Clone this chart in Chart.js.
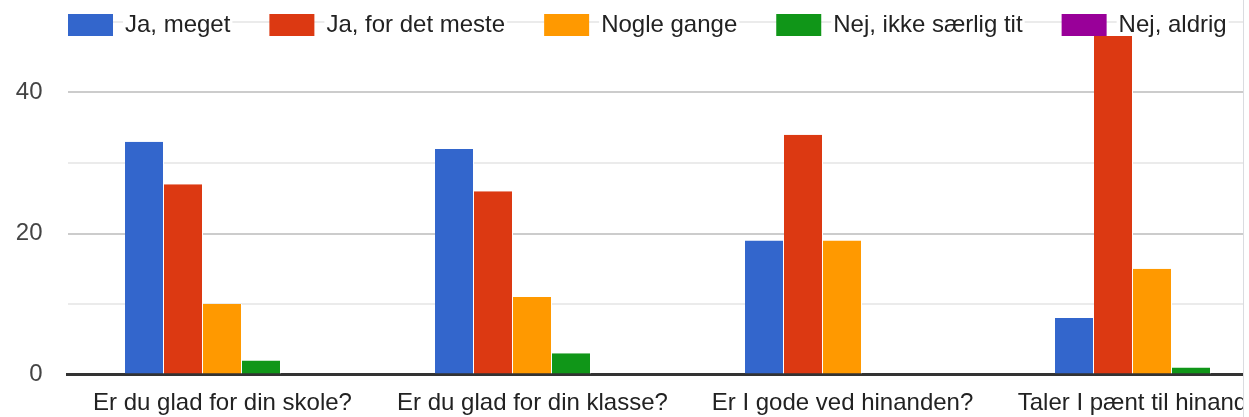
<!DOCTYPE html>
<html>
<head>
<meta charset="utf-8">
<script src="https://cdn.jsdelivr.net/npm/chart.js@4/dist/chart.umd.min.js"></script>
<style>
  html, body { margin: 0; padding: 0; background: #fff; overflow: hidden; }
  #wrap { width: 1243px; height: 417px; overflow: hidden; border-right: 1px solid #dadce0; }
</style>
</head>
<body>
<div id="wrap"><canvas id="surveyChart" width="1320" height="417"></canvas></div>
<script>
var questions = ['Er du glad for din skole?', 'Er du glad for din klasse?', 'Er I gode ved hinanden?', 'Taler I pænt til hinanden?'];
var jaMeget = [33, 32, 19, 8];
var jaForDetMeste = [27, 26, 34, 48];
var nogleGange = [10, 11, 19, 15];
var nejIkkeSaerligTit = [2, 3, 0, 1];
var nejAldrig = [0, 0, 0, 0];
var yTickLabels = [0, 20, 40];

var FONT = '"Liberation Sans", Arial, sans-serif';

// legend drawn google-style: starts at the left edge of the plot, over the top gridline
var topLegend = {
  id: 'topLegend',
  afterDraw: function (chart) {
    var ctx = chart.ctx;
    var x = chart.chartArea.left + 0.5;
    ctx.save();
    ctx.font = '24px ' + FONT;
    ctx.textBaseline = 'middle';
    chart.data.datasets.forEach(function (ds) {
      ctx.fillStyle = ds.backgroundColor;
      ctx.fillRect(x, 14, 45, 22);
      var tx = x + 57;
      var w = ctx.measureText(ds.label).width;
      ctx.fillStyle = '#fff';
      ctx.fillRect(tx - 2, 14, w + 4, 22);
      ctx.fillStyle = '#222';
      ctx.fillText(ds.label, tx, 25);
      x = tx + w + 39;
    });
    ctx.restore();
  }
};

function series(label, data, color) {
  return {
    label: label,
    data: data,
    backgroundColor: color,
    borderColor: '#fff',
    borderWidth: { left: 0, right: 1, top: 0, bottom: 0 },
    barPercentage: 1,
    categoryPercentage: 0.629
  };
}

var ctx = document.getElementById('surveyChart');
var chart = new Chart(ctx, {
  type: 'bar',
  data: {
    labels: questions,
    datasets: [
      series('Ja, meget', jaMeget, '#3366cc'),
      series('Ja, for det meste', jaForDetMeste, '#dc3912'),
      series('Nogle gange', nogleGange, '#ff9900'),
      series('Nej, ikke særlig tit', nejIkkeSaerligTit, '#109618'),
      series('Nej, aldrig', nejAldrig, '#990099')
    ]
  },
  options: {
    responsive: false,
    animation: false,
    layout: { padding: { top: 22, right: 12.5, left: 0, bottom: 0 } },
    plugins: {
      legend: { display: false },
      tooltip: { enabled: false }
    },
    scales: {
      x: {
        z: 1,
        grid: { display: false },
        border: { display: true, color: '#333', width: 3 },
        ticks: {
          color: '#222',
          font: { family: FONT, size: 24 },
          padding: 6,
          maxRotation: 0,
          autoSkip: false
        },
        afterFit: function (scale) {
          scale.height = 42.5;
          scale.paddingLeft = 0;
          scale.paddingRight = 0;
        }
      },
      y: {
        min: 0,
        max: 50,
        border: { display: false },
        grid: {
          drawTicks: false,
          lineWidth: 2,
          color: function (c) {
            if (c.tick.value === 0) return '#333';
            return c.tick.value % 20 === 0 ? '#cccccc' : '#ebebeb';
          }
        },
        ticks: {
          stepSize: 10,
          padding: 25,
          color: '#444',
          font: { family: FONT, size: 24 },
          callback: function (v) { return yTickLabels.indexOf(v) >= 0 ? v : ''; }
        },
        afterFit: function (scale) {
          scale.width = 67.5;
          scale.paddingTop = 0;
          scale.paddingBottom = 0;
        }
      }
    }
  },
  plugins: [topLegend]
});
</script>
</body>
</html>
